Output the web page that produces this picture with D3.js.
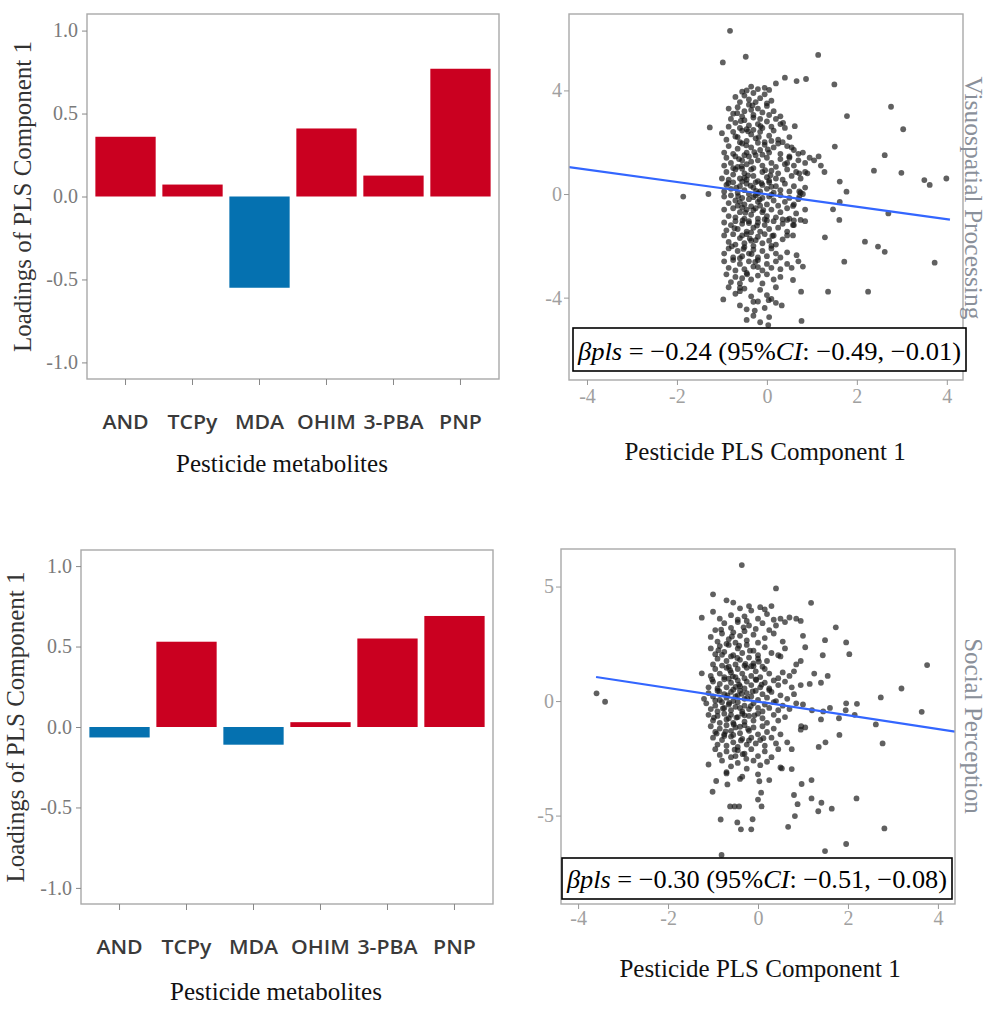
<!DOCTYPE html>
<html><head><meta charset="utf-8">
<script src="https://cdn.jsdelivr.net/npm/d3@7"></script>
<style>
body{margin:0;background:#fff}svg{display:block}
.serif{font-family:"Liberation Serif","Times New Roman","DejaVu Serif",serif}
.sans{font-family:"Open Sans","Noto Sans",sans-serif}
</style>
</head><body>
<svg id="c" width="989" height="1019"></svg>
<script>
// ---------- data ----------
const categories = ["AND", "TCPy", "MDA", "OHIM", "3-PBA", "PNP"];
const visuoLoadings = [0.36, 0.072, -0.55, 0.41, 0.126, 0.77];
const socialLoadings = [-0.065, 0.53, -0.11, 0.03, 0.55, 0.69];
const loadingTicks = [1.0, 0.5, 0.0, -0.5, -1.0];
const scatterXTicks = [-4, -2, 0, 2, 4];
const visuoYTicks = [4, 0, -4];
const socialYTicks = [5, 0, -5];

const visuoPoints = [
 [-0.35,4.15],[-0.2,4.05],[-0.05,4.1],[-0.45,4.0],[0.05,4.02],
 [-0.6,3.55],[-0.5,3.8],[-0.4,3.65],[-0.3,3.9],[-0.15,3.7],[-0.05,3.85],[0.1,3.6],[-0.25,3.55],[-0.7,3.75],[0.0,3.5],[-0.55,3.95],
 [-0.75,3.1],[-0.65,3.35],[-0.5,3.2],[-0.4,3.45],[-0.3,3.05],[-0.2,3.3],[-0.1,3.15],[0.0,3.4],[0.15,3.2],[-0.55,3.0],[-0.35,3.25],[0.3,3.0],[-0.85,3.3],[0.05,3.05],
 [-0.85,2.6],[-0.8,2.9],[-0.7,2.75],[-0.6,2.55],[-0.5,2.85],[-0.4,2.65],[-0.3,2.95],[-0.2,2.7],[-0.1,2.55],[0.0,2.8],[0.1,2.6],[0.2,2.9],[0.3,2.7],[-0.45,2.5],[-0.15,2.9],[0.4,2.55],
 [-0.9,2.1],[-0.75,2.4],[-0.65,2.2],[-0.55,2.45],[-0.45,2.05],[-0.35,2.3],[-0.25,2.15],[-0.15,2.4],[-0.05,2.0],[0.05,2.25],[0.15,2.45],[0.25,2.1],[-0.6,2.0],[-0.3,2.48],[0.1,2.05],[-1.0,2.35],[0.5,2.2],
 [-0.95,1.6],[-0.85,1.85],[-0.75,1.55],[-0.65,1.75],[-0.55,1.95],[-0.45,1.6],[-0.35,1.8],[-0.25,1.5],[-0.15,1.7],[-0.05,1.9],[0.05,1.6],[0.15,1.8],[0.3,1.55],[0.45,1.85],[0.6,1.7],[-0.5,1.5],[-0.2,1.98],[0.25,1.95],[0.8,1.6],
 [-0.95,1.1],[-0.9,1.4],[-0.8,1.2],[-0.7,1.45],[-0.65,1.05],[-0.55,1.3],[-0.45,1.15],[-0.4,1.45],[-0.3,1.0],[-0.2,1.3],[-0.1,1.1],[0.0,1.4],[0.1,1.2],[0.2,1.05],[0.3,1.35],[0.4,1.15],[0.5,1.4],[0.6,1.1],[0.7,1.3],[0.85,1.2],[-0.35,1.25],[-0.75,1.0],[0.95,1.4],
 [-1.0,0.6],[-0.9,0.85],[-0.85,0.55],[-0.75,0.75],[-0.7,0.95],[-0.6,0.6],[-0.5,0.8],[-0.45,0.55],[-0.35,0.95],[-0.3,0.7],[-0.2,0.5],[-0.1,0.85],[0.0,0.65],[0.1,0.9],[0.2,0.6],[0.25,0.8],[0.35,0.55],[0.45,0.95],[0.55,0.7],[0.65,0.85],[0.75,0.6],[0.9,0.8],[-0.55,0.98],[0.05,0.52],
 [-0.95,0.1],[-0.9,0.35],[-0.8,0.2],[-0.75,0.45],[-0.65,0.05],[-0.6,0.3],[-0.5,0.15],[-0.45,0.4],[-0.4,0.0],[-0.3,0.25],[-0.25,0.45],[-0.15,0.1],[-0.1,0.35],[0.0,0.2],[0.05,0.45],[0.15,0.05],[0.2,0.3],[0.3,0.15],[0.4,0.4],[0.5,0.1],[0.6,0.3],[0.75,0.05],[0.85,0.25],[-0.55,0.48],[-0.2,0.02],[0.1,0.28],
 [-0.95,-0.1],[-0.85,-0.35],[-0.8,-0.05],[-0.7,-0.25],[-0.65,-0.45],[-0.55,-0.15],[-0.5,-0.4],[-0.4,-0.2],[-0.35,-0.48],[-0.25,-0.05],[-0.2,-0.3],[-0.1,-0.15],[0.0,-0.4],[0.05,-0.1],[0.15,-0.25],[0.25,-0.45],[0.3,-0.05],[0.4,-0.3],[0.5,-0.15],[0.6,-0.4],[0.7,-0.2],[-0.3,-0.12],[-0.6,-0.3],[0.1,-0.02],[-0.15,-0.45],
 [-0.95,-0.6],[-0.85,-0.85],[-0.75,-0.55],[-0.7,-0.9],[-0.6,-0.7],[-0.5,-0.95],[-0.45,-0.6],[-0.35,-0.8],[-0.25,-0.55],[-0.2,-0.95],[-0.1,-0.7],[0.0,-0.85],[0.1,-0.6],[0.2,-0.9],[0.3,-0.7],[0.45,-0.55],[0.5,-0.95],[0.65,-0.75],[-0.55,-0.52],[-0.05,-0.98],[0.35,-0.98],[0.85,-0.6],
 [-0.95,-1.1],[-0.9,-1.4],[-0.8,-1.2],[-0.7,-1.05],[-0.65,-1.35],[-0.55,-1.15],[-0.45,-1.45],[-0.4,-1.05],[-0.3,-1.3],[-0.2,-1.1],[-0.15,-1.45],[-0.05,-1.2],[0.05,-1.35],[0.15,-1.05],[0.25,-1.3],[0.35,-1.15],[0.45,-1.45],[0.6,-1.2],[-0.35,-1.48],[0.0,-1.02],
 [-0.95,-1.6],[-0.85,-1.85],[-0.75,-1.55],[-0.7,-1.95],[-0.6,-1.7],[-0.5,-1.9],[-0.45,-1.55],[-0.35,-1.8],[-0.3,-2.0],[-0.2,-1.65],[-0.1,-1.9],[-0.05,-1.55],[0.05,-1.8],[0.15,-1.6],[0.2,-1.95],[0.35,-1.75],[0.45,-1.6],[-0.25,-1.78],[-0.55,-1.6],[0.1,-2.0],
 [-0.95,-2.3],[-0.85,-2.1],[-0.75,-2.45],[-0.65,-2.2],[-0.55,-2.4],[-0.5,-2.05],[-0.4,-2.3],[-0.3,-2.15],[-0.2,-2.45],[-0.1,-2.2],[0.0,-2.4],[0.1,-2.1],[0.2,-2.3],[0.3,-2.45],[0.45,-2.25],[-0.6,-2.48],
 [-0.95,-2.6],[-0.85,-2.85],[-0.75,-2.55],[-0.7,-2.95],[-0.6,-2.7],[-0.5,-2.9],[-0.4,-2.6],[-0.3,-2.8],[-0.2,-2.55],[-0.1,-2.95],[0.0,-2.7],[0.1,-2.85],[0.2,-2.6],[0.3,-2.9],[0.45,-2.7],[0.55,-2.85],
 [-0.9,-3.1],[-0.8,-3.4],[-0.7,-3.2],[-0.6,-3.45],[-0.45,-3.05],[-0.35,-3.3],[-0.2,-3.15],[-0.1,-3.45],[0.0,-3.1],[0.15,-3.3],[0.3,-3.2],[-0.55,-3.25],
 [-0.85,-3.6],[-0.7,-3.85],[-0.5,-3.65],[-0.35,-3.95],[-0.15,-3.7],[0.0,-3.9],[0.2,-3.6],[-0.6,-3.75],
 [-0.6,-4.3],[-0.45,-4.45],[-0.2,-4.15],[-0.05,-4.4],[0.1,-4.05],
 [-0.3,-4.7],[-0.15,-4.95],[0.05,-4.75],
 [-0.62,1.35],[-0.42,0.72],[-0.28,1.62],[-0.12,0.42],[-0.48,-0.72],[-0.22,-1.22],[-0.38,-1.72],[-0.68,0.25],[-0.18,2.2],[-0.58,2.82],
 [-0.32,3.42],[-0.08,-0.62],[-0.52,-2.12],[-0.26,-2.62],[-0.44,-3.1],[0.02,1.72],[-0.72,-1.32],[-0.36,0.32],[-0.16,-0.22],[-0.56,1.08],
 [-0.04,0.92],[-0.64,-0.08],[-0.24,0.12],[-0.46,1.88],[-0.14,2.62],[-0.54,-1.02],[-0.34,-2.32],[-0.78,-2.02],[0.12,-1.62],[-0.66,3.12],
 [-0.3,-0.62],[-0.5,0.62],[-0.1,1.52],[-0.7,2.22],[0.08,0.72],[-0.4,-1.12],[-0.2,-2.82],[-0.6,-3.62],[-0.86,0.42],[-0.42,2.42],
 [-0.82,6.3],[-0.98,5.08],[-0.47,5.3],[1.14,5.37],[0.4,4.49],[0.2,4.27],[0.66,4.36],[0.87,4.44],[1.5,4.23],[2.76,3.37],[1.78,3.01],[3.03,2.5],[-1.27,2.57],[0.62,2.62],[0.36,2.75],[1.51,1.83],[2.62,1.5],[1.05,1.3],[1.15,1.45],[1.2,1.1],[1.28,0.85],[2.38,0.9],[2.99,0.82],[3.5,0.54],[3.62,0.35],[3.99,0.6],[1.62,0.48],[1.77,0.09],[-1.86,-0.1],[-1.3,0.0],[1.62,-0.3],[1.47,-0.59],[1.61,-1.0],[2.7,-0.75],[1.29,-1.67],[2.18,-1.84],[2.47,-2.03],[2.62,-2.23],[1.72,-2.61],[3.73,-2.65],[0.76,-3.77],[1.36,-3.77],[2.25,-3.77],[-0.97,-4.07],[0.77,-4.9],[-0.45,-4.86],[0.03,-5.06],[0.04,-4.1],[0.2,-4.2],[0.33,-4.3],[-0.3,-4.16],[-0.27,-4.5],[0.58,-3.32],[0.66,-2.36],[0.7,-2.6],[0.8,-2.8],[0.58,-1.6],[0.58,-1.2],[0.45,-1.0],[0.6,-1.02],[0.75,-1.0],[0.85,-1.05],[0.58,-0.46],[0.72,0.1],[0.8,0.0],[0.72,-0.1],[0.72,0.8],[0.85,0.85],[0.5,1.45],[0.7,1.55],[0.45,1.2],[0.35,2.0],[0.55,1.8]
];

const socialPoints = [
 [-0.55,4.3],[-0.4,4.05],[-0.2,4.15],[0.05,4.1],[0.15,4.0],[-0.7,4.4],[0.3,4.15],
 [-1.0,3.9],[-0.85,3.6],[-0.6,3.75],[-0.45,3.55],[-0.3,3.7],[-0.15,3.95],[0.0,3.6],[0.2,3.8],[0.35,3.55],[0.5,3.6],[0.7,3.65],[0.85,3.6],[0.95,3.5],[-0.25,3.5],
 [-0.95,3.1],[-0.75,3.4],[-0.6,3.2],[-0.45,3.45],[-0.3,3.05],[-0.2,3.3],[-0.05,3.15],[0.1,3.4],[0.25,3.1],[0.4,3.3],[-0.55,3.0],[0.6,3.45],
 [-1.05,2.8],[-0.9,2.6],[-0.8,2.95],[-0.65,2.7],[-0.5,2.55],[-0.4,2.85],[-0.25,2.65],[-0.1,2.9],[0.0,2.55],[0.15,2.75],[0.35,2.95],[0.55,2.6],[1.0,2.85],[-0.7,2.5],
 [-1.05,2.3],[-0.95,2.05],[-0.85,2.4],[-0.75,2.15],[-0.65,2.45],[-0.55,2.0],[-0.45,2.3],[-0.35,2.1],[-0.25,2.45],[-0.1,2.2],[0.0,2.0],[0.15,2.35],[0.3,2.1],[0.45,2.0],[0.6,2.3],[1.05,2.35],[-0.8,2.02],
 [-1.0,1.6],[-0.9,1.85],[-0.8,1.55],[-0.7,1.75],[-0.6,1.95],[-0.5,1.6],[-0.4,1.8],[-0.3,1.55],[-0.2,1.9],[-0.1,1.65],[0.0,1.85],[0.1,1.5],[0.2,1.75],[0.5,1.95],[0.85,1.6],[0.95,1.75],[-0.65,1.5],[-0.15,1.52],
 [-1.05,1.1],[-0.95,1.4],[-0.85,1.2],[-0.75,1.05],[-0.7,1.45],[-0.6,1.25],[-0.5,1.05],[-0.45,1.4],[-0.35,1.2],[-0.25,1.45],[-0.15,1.1],[-0.05,1.3],[0.05,1.05],[0.15,1.4],[0.25,1.2],[0.45,1.0],[0.55,1.25],[0.7,1.1],[0.8,1.3],[1.25,1.2],[-0.3,1.0],
 [-1.1,0.6],[-1.0,0.85],[-0.9,0.55],[-0.85,0.75],[-0.75,0.95],[-0.7,0.6],[-0.6,0.8],[-0.55,0.5],[-0.45,0.9],[-0.4,0.65],[-0.3,0.55],[-0.25,0.85],[-0.15,0.7],[-0.05,0.95],[0.05,0.6],[0.15,0.8],[0.25,0.55],[0.35,0.9],[0.45,0.7],[0.6,0.85],[0.75,0.6],[0.95,0.7],[1.15,0.75],[-0.65,0.98],
 [-1.2,0.1],[-1.1,0.35],[-1.0,0.2],[-0.9,0.45],[-0.85,0.05],[-0.75,0.3],[-0.7,0.15],[-0.6,0.4],[-0.55,0.0],[-0.45,0.25],[-0.4,0.45],[-0.3,0.1],[-0.25,0.35],[-0.15,0.2],[-0.05,0.45],[0.0,0.05],[0.1,0.3],[0.2,0.15],[0.3,0.4],[0.4,0.0],[0.5,0.25],[0.65,0.1],[0.8,0.3],[-0.5,0.2],[-0.95,0.02],[0.25,0.48],
 [-1.15,-0.1],[-1.05,-0.35],[-0.95,-0.2],[-0.9,-0.45],[-0.8,-0.05],[-0.75,-0.3],[-0.65,-0.15],[-0.6,-0.4],[-0.5,-0.25],[-0.45,-0.05],[-0.35,-0.45],[-0.3,-0.2],[-0.2,-0.35],[-0.1,-0.1],[0.0,-0.3],[0.1,-0.45],[0.15,-0.15],[0.25,-0.3],[0.35,-0.05],[0.45,-0.4],[0.55,-0.2],[0.7,-0.35],[0.85,-0.1],[1.0,-0.15],[1.2,-0.4],[1.45,-0.45],[1.6,-0.3],[-0.4,-0.3],
 [-1.1,-0.6],[-1.0,-0.85],[-0.9,-0.65],[-0.85,-0.95],[-0.75,-0.55],[-0.7,-0.8],[-0.6,-0.6],[-0.55,-0.95],[-0.45,-0.7],[-0.35,-0.55],[-0.3,-0.9],[-0.2,-0.65],[-0.1,-0.85],[0.0,-0.55],[0.1,-0.75],[0.2,-0.95],[0.35,-0.6],[0.45,-0.85],[0.6,-0.7],[-0.65,-0.75],
 [-1.05,-1.1],[-0.95,-1.35],[-0.85,-1.2],[-0.75,-1.45],[-0.7,-1.05],[-0.6,-1.3],[-0.5,-1.15],[-0.4,-1.4],[-0.3,-1.05],[-0.2,-1.3],[-0.1,-1.15],[0.0,-1.45],[0.1,-1.1],[0.2,-1.35],[0.35,-1.2],[0.5,-1.45],[0.95,-1.25],[1.05,-1.15],[-0.55,-1.48],
 [-1.0,-1.6],[-0.9,-1.9],[-0.8,-1.7],[-0.7,-1.95],[-0.6,-1.55],[-0.55,-1.8],[-0.45,-2.0],[-0.35,-1.65],[-0.25,-1.9],[-0.15,-1.6],[-0.05,-1.85],[0.05,-1.7],[0.15,-1.95],[0.3,-1.6],[0.4,-1.85],[0.65,-1.8],[-0.75,-1.52],
 [-0.95,-2.1],[-0.85,-2.35],[-0.7,-2.2],[-0.6,-2.45],[-0.45,-2.15],[-0.3,-2.3],[-0.15,-2.1],[0.0,-2.4],[0.15,-2.2],[0.3,-2.45],[0.45,-2.1],[-0.5,-2.4],
 [-0.8,-2.6],[-0.6,-2.85],[-0.45,-2.7],[-0.25,-2.95],[-0.1,-2.6],[0.05,-2.8],[0.2,-2.65],[0.5,-2.9],
 [-0.7,-3.1],[-0.35,-3.3],[0.25,-3.45],
 [-0.62,1.35],[-0.42,0.72],[-0.28,1.62],[-0.12,0.42],[-0.48,-0.72],[-0.22,-1.22],[-0.38,-1.72],[-0.68,0.25],[-0.18,2.2],[-0.58,2.82],
 [-0.32,3.22],[-0.08,-0.62],[-0.52,-2.12],[-0.26,-2.52],[-0.78,-0.32],[0.02,1.72],[-0.72,-1.32],[-0.36,0.32],[-0.16,-0.22],[-0.56,1.08],
 [-0.04,0.92],[-0.64,-0.08],[-0.24,0.12],[-0.46,1.88],[-0.88,2.22],[-0.54,-1.02],[-0.34,-2.32],[-0.92,-1.42],[0.12,-1.62],[-0.82,3.12],
 [-0.3,-0.62],[-0.5,0.62],[-0.1,1.52],[-1.02,0.95],[0.08,0.72],[-0.4,-1.12],[-0.2,-1.72],[-0.98,-0.72],[-0.86,0.42],[-0.42,2.42],
 [-0.36,5.94],[0.4,4.92],[-1.0,4.66],[1.18,4.29],[1.73,3.22],[-1.25,3.64],[1.49,2.66],[1.96,2.56],[2.03,2.05],[1.44,2.0],[3.76,1.57],[3.19,0.55],[2.73,0.16],[3.64,-0.47],[2.62,-1.02],[2.77,-1.85],[1.81,-1.48],[1.5,-1.8],[1.35,-2.0],[-3.59,0.34],[-3.4,-0.03],[-1.25,1.21],[1.96,-0.1],[2.2,-0.12],[2.15,-0.6],[1.95,-0.4],[1.8,-0.75],[1.4,-0.8],[1.19,-3.45],[1.19,-4.25],[1.41,-4.44],[1.34,-4.81],[1.64,-4.7],[2.19,-4.25],[0.97,-3.62],[0.8,-4.1],[0.88,-4.5],[0.82,-5.02],[0.67,-5.49],[2.81,-5.56],[1.96,-6.24],[1.49,-6.55],[-0.83,-5.17],[-0.38,-5.6],[-0.15,-5.6],[-0.46,-5.3],[-0.12,-5.16],[-0.62,-4.6],[-0.52,-4.6],[-0.42,-4.6],[0.0,-4.3],[0.08,-4.6],[-0.81,-6.72],[-1.1,-2.77],[-0.93,-3.49],[-1.01,-3.96],[-0.7,-3.16],[-0.68,-3.64],[-0.4,-3.4],[0.07,-4.0],[0.03,-3.5],[0.0,-3.2],[0.53,-2.94],[0.75,-2.97],[0.75,-2.1],[0.96,-1.1],[1.4,0.8],[1.55,1.1]
];

// fitted regression lines (endpoints)
const visuoFit = [[-4.4, 1.04], [4.07, -0.99]];
const socialFit = [[-3.6, 1.05], [4.38, -1.33]];
const visuoNote = ["βpls", " = −0.24 (95%", "CI", ": −0.49, −0.01)"];
const socialNote = ["βpls", " = −0.30 (95%", "CI", ": −0.51, −0.08)"];

// ---------- drawing ----------
const svg = d3.select("#c");
const RED = "#CA0020", BLUE = "#0571B0", FRAME = "#a9a9a9";

function barPanel(o) {
  const g = svg.append("g");
  const x = d3.scaleBand().domain(categories).range([o.x0, o.x1]).paddingInner(0.1).paddingOuter(0.125);
  const y = d3.scaleLinear().domain([-1.1, 1.1]).range([o.y1, o.y0]);
  g.selectAll("rect.bar").data(o.values).join("rect").attr("class", "bar")
    .attr("x", (d, i) => x(categories[i])).attr("width", x.bandwidth())
    .attr("y", d => y(Math.max(0, d))).attr("height", d => Math.abs(y(d) - y(0)))
    .attr("fill", d => d >= 0 ? RED : BLUE);
  g.append("rect").attr("x", o.x0).attr("y", o.y0).attr("width", o.x1 - o.x0).attr("height", o.y1 - o.y0)
    .attr("fill", "none").attr("stroke", FRAME).attr("stroke-width", 1.4);
  const ya = g.append("g").attr("transform", `translate(${o.x0},0)`)
    .call(d3.axisLeft(y).tickValues(loadingTicks).tickFormat(d => d.toFixed(1)).tickSize(5).tickPadding(4));
  ya.select(".domain").remove();
  ya.attr("font-family", null).attr("font-size", null);
  ya.selectAll("line").attr("stroke", "#888");
  ya.selectAll("text").attr("class", "serif").style("font-size", "20px").attr("fill", "#7a7a7a");
  const xa = g.append("g").attr("transform", `translate(0,${o.y1})`)
    .call(d3.axisBottom(x).tickSize(6).tickPadding(o.labPad));
  xa.select(".domain").remove();
  xa.attr("font-family", null).attr("font-size", null);
  xa.selectAll("line").attr("stroke", "#888");
  xa.selectAll("text").attr("class", "sans").style("font-weight", 600)
    .style("font-size", "19px").attr("fill", "#3a3a3a").attr("transform", "scale(1.12,1)");
  g.append("text").attr("class", "serif").attr("transform", `translate(${o.ylx},${(o.y0 + o.y1) / 2}) rotate(-90)`)
    .attr("text-anchor", "middle").style("font-size", "25px").attr("fill", "#333")
    .text("Loadings of PLS Component 1");
  g.append("text").attr("class", "serif").attr("x", o.xlx).attr("y", o.xly).attr("text-anchor", "middle")
    .style("font-size", "25px").attr("fill", "#111").text("Pesticide metabolites");
}

function scatterPanel(o) {
  const g = svg.append("g");
  const x = d3.scaleLinear().domain(o.xd).range([o.x0, o.x1]);
  const y = d3.scaleLinear().domain(o.yd).range([o.y1, o.y0]);
  const cid = "clip" + o.id;
  svg.append("clipPath").attr("id", cid).append("rect")
    .attr("x", o.x0).attr("y", o.y0).attr("width", o.x1 - o.x0).attr("height", o.y1 - o.y0);
  const inner = g.append("g").attr("clip-path", `url(#${cid})`);
  inner.selectAll("circle").data(o.points).join("circle")
    .attr("cx", d => x(d[0])).attr("cy", d => y(d[1])).attr("r", 2.9)
    .attr("fill", "#151515").attr("fill-opacity", 0.68);
  inner.append("path").datum(o.fit)
    .attr("d", d3.line().x(d => x(d[0])).y(d => y(d[1])))
    .attr("stroke", "#3366FF").attr("stroke-width", 2.2).attr("fill", "none");
  g.append("rect").attr("x", o.x0).attr("y", o.y0).attr("width", o.x1 - o.x0).attr("height", o.y1 - o.y0)
    .attr("fill", "none").attr("stroke", FRAME).attr("stroke-width", 1.4);
  const ya = g.append("g").attr("transform", `translate(${o.x0},0)`)
    .call(d3.axisLeft(y).tickValues(o.yt).tickFormat(d => String(d)).tickSize(5).tickPadding(2));
  ya.select(".domain").remove();
  ya.attr("font-family", null).attr("font-size", null);
  ya.selectAll("line").attr("stroke", "#999");
  ya.selectAll("text").attr("class", "serif").style("font-size", "20px").attr("fill", "#a0a0a0");
  const xa = g.append("g").attr("transform", `translate(0,${o.y1})`)
    .call(d3.axisBottom(x).tickValues(scatterXTicks).tickFormat(d => String(d)).tickSize(5).tickPadding(o.xpad));
  xa.select(".domain").remove();
  xa.attr("font-family", null).attr("font-size", null);
  xa.selectAll("line").attr("stroke", "#999");
  xa.selectAll("text").attr("class", "serif").style("font-size", "20px").attr("fill", "#a0a0a0");
  // annotation box
  const b = o.box;
  g.append("rect").attr("x", b[0]).attr("y", b[1]).attr("width", b[2]).attr("height", b[3])
    .attr("fill", "#fff").attr("stroke", "#000").attr("stroke-width", 1.6);
  const t = g.append("text").attr("class", "serif").attr("x", b[0] + 5).attr("y", b[1] + b[3] - 11)
    .style("font-size", "26px").attr("fill", "#000")
    .attr("textLength", b[2] - 10).attr("lengthAdjust", "spacingAndGlyphs");
  o.note.forEach((s, i) => t.append("tspan").style("font-style", i % 2 === 0 ? "italic" : "normal").text(s));
  // titles
  g.append("text").attr("class", "serif").attr("x", o.xlx).attr("y", o.xly).attr("text-anchor", "middle")
    .style("font-size", "25px").attr("fill", "#111").text("Pesticide PLS Component 1");
  g.append("text").attr("class", "serif").attr("transform", `translate(${o.rlx},${o.rly}) rotate(90)`)
    .attr("text-anchor", "middle").style("font-size", o.rfs + "px").attr("fill", "#8a909a")
    .text(o.rlab);
}

barPanel({values: visuoLoadings, x0: 87, x1: 499, y0: 14, y1: 379, labPad: 31, ylx: 31, xlx: 282, xly: 472});
barPanel({values: socialLoadings, x0: 81, x1: 493, y0: 550, y1: 904, labPad: 31, ylx: 24, xlx: 276, xly: 1000});

scatterPanel({id: 1, points: visuoPoints, fit: visuoFit, xd: [-4.4, 4.36], yd: [-7.18, 6.95],
  x0: 569, x1: 963, y0: 14, y1: 380, yt: visuoYTicks, xpad: 4,
  box: [573, 328, 393, 43], note: visuoNote, xlx: 765, xly: 460, rlx: 965, rly: 198, rfs: 25.5, rlab: "Visuospatial Processing"});
scatterPanel({id: 2, points: socialPoints, fit: socialFit, xd: [-4.38, 4.38], yd: [-8.86, 6.64],
  x0: 561, x1: 955, y0: 549, y1: 904, yt: socialYTicks, xpad: 2,
  box: [562, 858, 390, 41], note: socialNote, xlx: 760, xly: 977, rlx: 965, rly: 726, rfs: 25, rlab: "Social Perception"});
</script>
</body></html>
